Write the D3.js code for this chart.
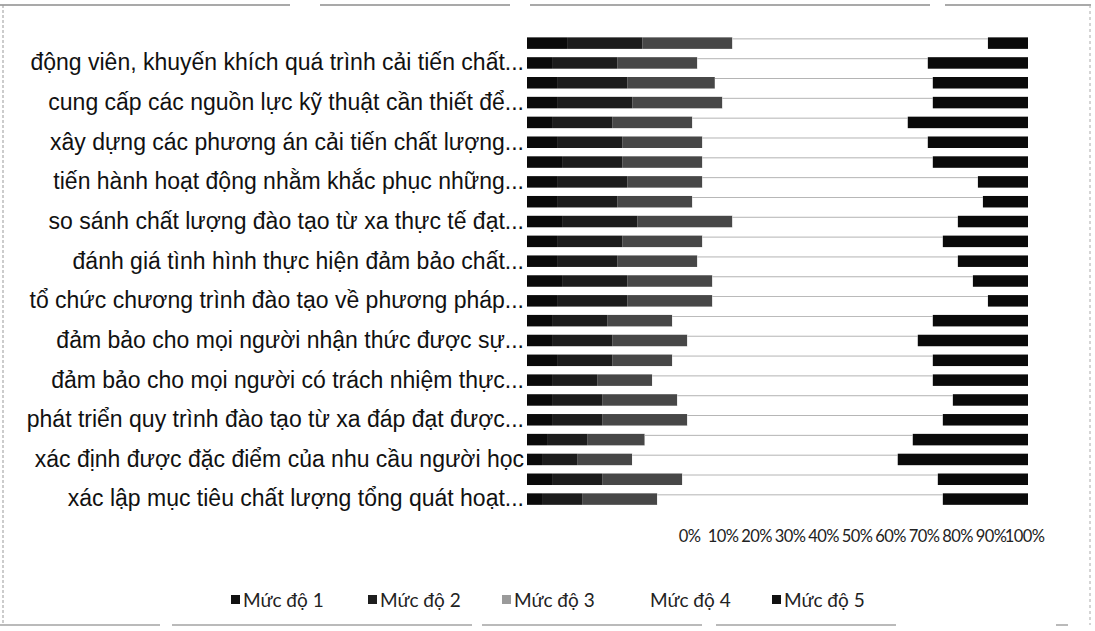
<!DOCTYPE html>
<html>
<head>
<meta charset="utf-8">
<script src="https://cdn.jsdelivr.net/npm/d3@7"></script>
<style>
  html, body { margin: 0; padding: 0; background: #fff; }
  svg { display: block; }
</style>
</head>
<body>
<svg id="chart" width="1095" height="631"></svg>
<script>
// ---- DATA (display order, top bar first) ----
const categoryLabels = [
  "",
  "động viên, khuyến khích quá trình cải tiến chất...",
  "",
  "cung cấp các nguồn lực kỹ thuật cần thiết để...",
  "",
  "xây dựng các phương án cải tiến chất lượng...",
  "",
  "tiến hành hoạt động nhằm khắc phục những...",
  "",
  "so sánh chất lượng đào tạo từ xa thực tế đạt...",
  "",
  "đánh giá tình hình thực hiện đảm bảo chất...",
  "",
  "tổ chức chương trình đào tạo về phương pháp...",
  "",
  "đảm bảo cho mọi người nhận thức được sự...",
  "",
  "đảm bảo cho mọi người có trách nhiệm thực...",
  "",
  "phát triển quy trình đào tạo từ xa đáp đạt được...",
  "",
  "xác định được đặc điểm của nhu cầu người học",
  "",
  "xác lập mục tiêu chất lượng tổng quát hoạt..."
];
const seriesNames = ["Mức độ 1", "Mức độ 2", "Mức độ 3", "Mức độ 4", "Mức độ 5"];
const level1 = [8, 5, 6, 6, 5, 6, 7, 6, 6, 7, 6, 6, 7, 6, 5, 5, 6, 5, 5, 5, 4, 3, 5, 3];
const level2 = [15, 13, 14, 15, 12, 13, 12, 14, 12, 15, 13, 12, 13, 14, 11, 12, 11, 9, 10, 10, 8, 7, 10, 8];
const level3 = [18, 16, 17.5, 18, 16, 16, 16, 15, 15, 19, 16, 16, 17, 17, 13, 15, 12, 11, 15, 17, 11.5, 11, 16, 15];
const level4 = [51, 46, 43.5, 42, 43, 45, 46, 55, 58, 45, 48, 52, 52, 55, 52, 46, 52, 56, 55, 51, 53.5, 53, 51, 57];
const level5 = [8, 20, 19, 19, 24, 20, 19, 10, 9, 14, 17, 14, 11, 8, 19, 22, 19, 19, 15, 17, 23, 26, 18, 17];
const tickLabels = ["0%", "10%", "20%", "30%", "40%", "50%", "60%", "70%", "80%", "90%", "100%"];

// ---- STYLE / LAYOUT ----
const colors = ["#0a0a0a", "#1c1c1c", "#474747", "#ffffff", "#0a0a0a"];
const legendColors = ["#111", "#1e1e1e", "#9a9a9a", "#ffffff", "#111"];
const W = 1095, H = 631;
const plotLeft = 527, plotRight = 1028, plotTop = 33.2, plotBottom = 509;
const axisLabelLeft = 689, axisLabelRight = 1024, axisLabelY = 537;

const svg = d3.select("#chart");

// frame (scanned border)
const frame = svg.append("g");
frame.append("line").attr("x1", 0).attr("x2", W - 4).attr("y1", 5).attr("y2", 5)
  .attr("stroke", "#555").attr("stroke-width", 1.2).attr("stroke-dasharray", "290,30,190,20,400,15,160");
frame.append("line").attr("x1", 3).attr("x2", 3).attr("y1", 5).attr("y2", H - 6)
  .attr("stroke", "#999").attr("stroke-width", 1).attr("stroke-dasharray", "3,2");
frame.append("line").attr("x1", W - 5).attr("x2", W - 5).attr("y1", 5).attr("y2", H - 6)
  .attr("stroke", "#aaa").attr("stroke-width", 1).attr("stroke-dasharray", "3,3");
frame.append("line").attr("x1", 0).attr("x2", W - 4).attr("y1", H - 6).attr("y2", H - 6)
  .attr("stroke", "#777").attr("stroke-width", 1.2).attr("stroke-dasharray", "160,12,300,10,220,14,180");

const idx = d3.range(categoryLabels.length);
const rows = idx.map(i => ({
  i,
  vals: [level1[i], level2[i], level3[i], level4[i], level5[i]]
}));

const x = d3.scaleLinear().domain([0, 100]).range([plotLeft, plotRight]);
const y = d3.scaleBand().domain(idx).range([plotTop, plotBottom]).paddingInner(0.42).paddingOuter(0.21);

const keys = [0, 1, 2, 3, 4];
const stack = d3.stack().keys(keys).value((d, k) => {
  const tot = d3.sum(d.vals);
  return d.vals[k] / tot * 100;
});
const stacked = stack(rows);

const gBars = svg.append("g");
stacked.forEach((layer, k) => {
  gBars.append("g").selectAll("rect").data(layer).join("rect")
    .attr("x", d => x(d[0]))
    .attr("y", d => y(d.data.i))
    .attr("width", d => Math.max(0, x(d[1]) - x(d[0])))
    .attr("height", y.bandwidth())
    .attr("fill", colors[k]);
});
// faint outline line on the white (level 4) segment, as in the scan
gBars.append("g").selectAll("line").data(stacked[3]).join("line")
  .attr("x1", d => x(d[0])).attr("x2", d => x(d[1]))
  .attr("y1", d => y(d.data.i) + 1.5).attr("y2", d => y(d.data.i) + 1.5)
  .attr("stroke", "#8a8a8a").attr("stroke-width", 0.8).attr("opacity", 0.8);

// category labels
const yAxis = d3.axisLeft(y).tickSize(0).tickPadding(2).tickFormat(i => categoryLabels[i]);
const gy = svg.append("g").attr("transform", `translate(${plotLeft - 1},0)`).call(yAxis);
gy.select(".domain").remove();
gy.selectAll("text")
  .attr("font-family", "'Liberation Sans', Arial, sans-serif")
  .attr("font-size", 23)
  .attr("fill", "#111");

// value axis labels
const xLab = d3.scaleLinear().domain([0, 1]).range([axisLabelLeft, axisLabelRight]);
const xAxis = d3.axisBottom(xLab).tickValues(d3.range(0, 1.0001, 0.1)).tickSize(0)
  .tickFormat((d, i) => tickLabels[i]);
const gx = svg.append("g").attr("transform", `translate(0,${axisLabelY - 10})`).call(xAxis);
gx.select(".domain").remove();
gx.selectAll("text")
  .attr("font-family", "Lato, 'Open Sans', sans-serif")
  .attr("font-size", 16.5)
  .attr("letter-spacing", "-0.6px")
  .attr("fill", "#222");

// legend
const legendX = [231, 368, 502, 638, 772];
const legendY = 600;
const lg = svg.append("g");
seriesNames.forEach((name, k) => {
  const g = lg.append("g").attr("transform", `translate(${legendX[k]},${legendY})`);
  g.append("rect").attr("x", 0).attr("y", -5).attr("width", 9).attr("height", 9)
    .attr("fill", legendColors[k]);
  g.append("text").attr("x", 12).attr("y", 0).attr("dy", "0.35em")
    .attr("font-family", "Lato, 'Open Sans', sans-serif")
    .attr("font-size", 19).attr("fill", "#222").text(name);
});
</script>
</body>
</html>
